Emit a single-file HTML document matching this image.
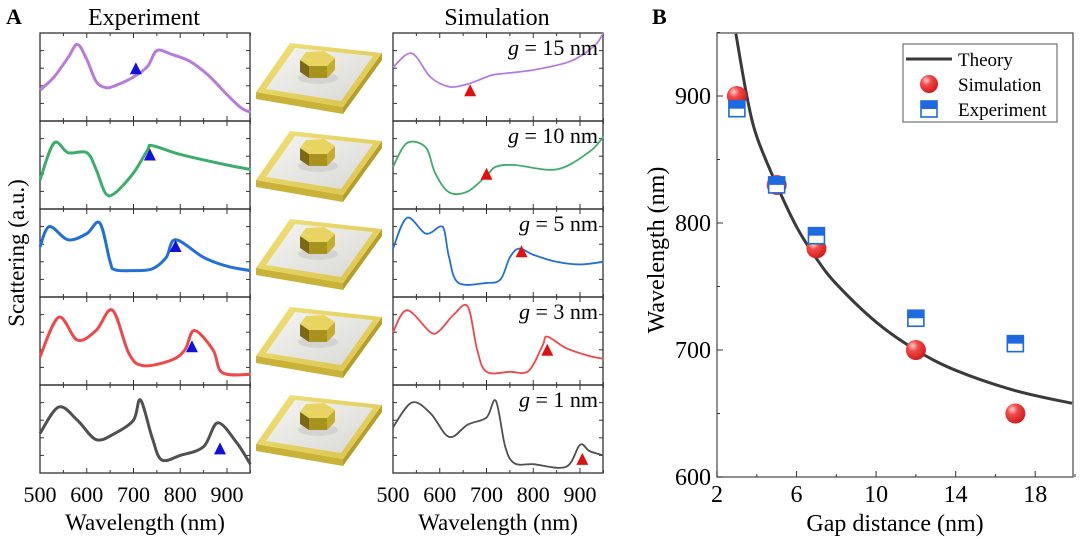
<!DOCTYPE html>
<html><head><meta charset="utf-8"><style>
body{margin:0;background:#fff;}
svg{display:block;font-family:"Liberation Serif",serif;}
</style></head><body>
<svg id="fig" width="1080" height="539" viewBox="0 0 1080 539" xmlns="http://www.w3.org/2000/svg">
<defs>
<radialGradient id="ball" cx="0.35" cy="0.3" r="0.75"><stop offset="0" stop-color="#ffd0d0"/><stop offset="0.35" stop-color="#f24a4a"/><stop offset="1" stop-color="#d01818"/></radialGradient>
<linearGradient id="silver" x1="0" y1="0" x2="1" y2="1"><stop offset="0" stop-color="#f4f4f2"/><stop offset="1" stop-color="#d8d8d4"/></linearGradient>
<linearGradient id="goldTop" x1="0" y1="0" x2="1" y2="1"><stop offset="0" stop-color="#f2e27a"/><stop offset="1" stop-color="#d9c24a"/></linearGradient>
</defs>
<g id="panelA"></g>
<g id="panelB"></g>
</svg>
<script>
// ---------- Panel A data ----------
const expLambda = [
 [500,530,560,580,600,620,640,660,700,730,750,780,820,860,900,930,950],
 [500,530,560,600,620,640,660,700,730,740,800,900,950],
 [500,520,560,600,628,650,660,700,740,770,790,850,900,950],
 [500,540,580,620,655,690,720,780,810,830,870,890,950],
 [500,540,580,620,660,700,715,740,760,800,850,880,920,950]
];
const expValues = [
 [0.35,0.5,0.72,0.87,0.7,0.45,0.38,0.4,0.5,0.62,0.8,0.76,0.68,0.52,0.3,0.15,0.1],
 [0.33,0.75,0.64,0.64,0.45,0.18,0.18,0.41,0.67,0.72,0.62,0.5,0.45],
 [0.57,0.8,0.65,0.72,0.84,0.4,0.31,0.3,0.32,0.45,0.65,0.45,0.35,0.3],
 [0.32,0.77,0.51,0.62,0.85,0.36,0.22,0.28,0.4,0.62,0.4,0.14,0.12],
 [0.45,0.75,0.6,0.38,0.45,0.6,0.83,0.4,0.15,0.2,0.3,0.57,0.35,0.1]
];
const simLambda = [
 [500,540,580,620,660,700,720,800,880,930,950],
 [500,530,570,590,620,660,700,720,760,850,920,950],
 [500,530,570,600,610,620,640,700,730,750,770,800,850,900,950],
 [500,530,580,600,630,660,680,700,750,790,820,830,870,920,950],
 [500,540,580,620,660,700,720,740,760,800,870,900,920,950]
];
const simValues = [
 [0.61,0.77,0.5,0.39,0.42,0.5,0.53,0.58,0.68,0.85,1.02],
 [0.48,0.75,0.7,0.41,0.19,0.2,0.38,0.48,0.5,0.45,0.65,0.82],
 [0.55,0.9,0.72,0.8,0.75,0.45,0.16,0.16,0.2,0.45,0.55,0.48,0.4,0.37,0.4],
 [0.6,0.85,0.6,0.62,0.8,0.89,0.4,0.15,0.15,0.16,0.45,0.55,0.42,0.33,0.3],
 [0.52,0.8,0.68,0.41,0.55,0.63,0.82,0.3,0.11,0.1,0.07,0.32,0.25,0.2]
];
const expColors = ["#b77be0","#3cad6a","#2070d8","#f04848","#505050"];
const simColors = ["#b77be0","#3cad6a","#2070d8","#f04848","#505050"];
const expMarkLambda = [705,735,790,825,885];
const expMarkValue = [0.6,0.62,0.58,0.44,0.28];
const simMarkLambda = [665,700,775,830,905];
const simMarkValue = [0.35,0.4,0.52,0.4,0.16];
const gapLabels = ["15","10","5","3","1"];
const xTickLabelsA = [500,600,700,800,900];

// ---------- Panel B data ----------
const gapSim = [3,5,7,12,17];
const wlSim = [900,830,780,700,650];
const gapExp = [3,5,7,12,17];
const wlExp = [890,830,790,725,705];
const theoryGap = [2.95,3.5,4,5,6,7,8,10,12,14,17,19.85];
const theoryWl = [949,900,868,830,797,772,752,722,700,684,668,658];
const yTicksB = [600,700,800,900];
const xTicksB = [2,6,10,14,18];

const NS="http://www.w3.org/2000/svg";
function mk(tag, attrs, parent){const e=document.createElementNS(NS,tag);for(const k in attrs)e.setAttribute(k,attrs[k]);parent.appendChild(e);return e;}

const A=document.getElementById('panelA');
const B=document.getElementById('panelB');
const rowTop=33, rowH=88;
const expX0=40, simX0=393, pxPerNm=0.4675, panelW=210;
function xA(x0,l){return x0+(l-500)*pxPerNm;}
function yA(r,v){return rowTop+r*rowH+rowH-v*rowH;}

let t;
t=mk('text',{x:6,y:24,'font-size':22,'font-weight':'bold'},A);t.textContent='A';

t=mk('text',{x:144,y:25,'font-size':24,'text-anchor':'middle'},A);t.textContent='Experiment';

t=mk('text',{x:497,y:25,'font-size':24,'text-anchor':'middle'},A);t.textContent='Simulation';

t=mk('text',{x:0,y:0,'font-size':23,'text-anchor':'middle',transform:'translate(24,253) rotate(-90)'},A);t.textContent='Scattering (a.u.)';


function drawFrame(x0,r,name){
  const y0=rowTop+r*rowH;
  const g=mk('g',{},A);
  
  
  mk('rect',{x:x0,y:y0,width:panelW,height:rowH,fill:'none',stroke:'#333','stroke-width':1.3},g);
  for(let l=500;l<=950;l+=50){
    const x=xA(x0,l), len=(l%100===0)?5:3;
    mk('line',{x1:x,y1:y0+rowH,x2:x,y2:y0+rowH-len,stroke:'#333','stroke-width':1},g);
    mk('line',{x1:x,y1:y0,x2:x,y2:y0+len,stroke:'#333','stroke-width':1},g);
  }
  for(let k=1;k<=4;k++){
    const y=y0+k*rowH/5;
    mk('line',{x1:x0,y1:y,x2:x0+4,y2:y,stroke:'#333','stroke-width':1},g);
    mk('line',{x1:x0+panelW,y1:y,x2:x0+panelW-4,y2:y,stroke:'#333','stroke-width':1},g);
  }
}
function curve(x0,r,lams,vals,color,w,name){
  const pts=lams.map((l,i)=>[xA(x0,l),Math.max(rowTop+r*rowH,yA(r,vals[i]))]);
  let d='M'+pts[0][0]+','+pts[0][1];
  for(let i=1;i<pts.length;i++){
    const p0=pts[Math.max(0,i-2)],p1=pts[i-1],p2=pts[i],p3=pts[Math.min(pts.length-1,i+1)];
    const c1x=p1[0]+(p2[0]-p0[0])/6,c1y=p1[1]+(p2[1]-p0[1])/6;
    const c2x=p2[0]-(p3[0]-p1[0])/6,c2y=p2[1]-(p3[1]-p1[1])/6;
    d+=' C'+c1x+','+c1y+' '+c2x+','+c2y+' '+p2[0]+','+p2[1];
  }
  const p=mk('path',{d:d,fill:'none',stroke:color,'stroke-width':w,'stroke-linejoin':'round'},A);
  
  
}
function tri(x,y,color,name){
  const p=mk('polygon',{points:(x-6)+','+(y+6)+' '+(x+6)+','+(y+6)+' '+x+','+(y-6),fill:color},A);
  
  
}
function device(r){
  const g=mk('g',{transform:'translate(0,'+(r*rowH)+')'},A);
  
  
  mk('polygon',{points:'256,92 343,107 343,114 256,99',fill:'#c9b238'},g);
  mk('polygon',{points:'343,107 382,53 382,60 343,114',fill:'#b59e2a'},g);
  mk('polygon',{points:'256,92 290,43 382,53 343,107',fill:'url(#goldTop)'},g);
  mk('polygon',{points:'266,89 295,48 373,56 341,101',fill:'url(#silver)'},g);
  mk('ellipse',{cx:318,cy:78,rx:20,ry:6,fill:'#c8c8c4',opacity:0.6},g);
  mk('polygon',{points:'300,60 300,72 309,78 309,66',fill:'#7a6a18'},g);
  mk('polygon',{points:'309,66 309,78 327,78 327,66',fill:'#a8921e'},g);
  mk('polygon',{points:'327,66 327,78 335,70 335,58',fill:'#c4ad30'},g);
  mk('polygon',{points:'300,60 306,52 324,51 335,58 327,66 309,66',fill:'#e8d460'},g);
}

for(let r=0;r<5;r++){
  drawFrame(expX0,r,'experiment-frame-'+(r+1));
  drawFrame(simX0,r,'simulation-frame-'+(r+1));
  curve(expX0,r,expLambda[r],expValues[r],expColors[r],3,'experiment-spectrum-'+(r+1));
  curve(simX0,r,simLambda[r],simValues[r],simColors[r],1.8,'simulation-spectrum-'+(r+1));
  tri(xA(expX0,expMarkLambda[r]),yA(r,expMarkValue[r]),'#1010e0','experiment-peak-marker-'+(r+1));
  tri(xA(simX0,simMarkLambda[r]),yA(r,simMarkValue[r]),'#e01010','simulation-peak-marker-'+(r+1));
  device(r);
  const gl=mk('text',{x:598,y:rowTop+r*rowH+22,'font-size':22,'text-anchor':'end'},A);
  
  
  gl.innerHTML='<tspan font-style="italic">g</tspan> = '+gapLabels[r]+' nm';
}
[expX0,simX0].forEach((x0,j)=>{
  xTickLabelsA.forEach(l=>{
    const tl=mk('text',{x:xA(x0,l),y:502,'font-size':22,'text-anchor':'middle'},A);
    tl.textContent=l;
    
    
  });
  const xt=mk('text',{x:x0+panelW/2,y:530,'font-size':23,'text-anchor':'middle'},A);
  xt.textContent='Wavelength (nm)';
  
  
});

// ---------- Panel B ----------
const bx0=717,bx1=1073,by0=33,by1=477;
function xB(g){return bx0+(g-2)*(bx1-bx0)/(19.9-2);}
function yB(w){return by1-(w-600)*(by1-by0)/(949.6-600);}
t=mk('text',{x:652,y:24,'font-size':22,'font-weight':'bold'},B);t.textContent='B';

const fr=mk('rect',{x:bx0,y:by0,width:bx1-bx0,height:by1-by0,fill:'none',stroke:'#555','stroke-width':1.3},B);

yTicksB.forEach(w=>{
  mk('line',{x1:bx0,y1:yB(w),x2:bx0+6,y2:yB(w),stroke:'#333'},B);
  mk('line',{x1:bx0,y1:yB(w+50),x2:bx0+3,y2:yB(w+50),stroke:'#333'},B);
  const tl=mk('text',{x:bx0-6,y:yB(w)+8,'font-size':24,'text-anchor':'end'},B);
  tl.textContent=w;
  
  
});
xTicksB.forEach(g=>{
  mk('line',{x1:xB(g),y1:by1,x2:xB(g),y2:by1-6,stroke:'#333'},B);
  mk('line',{x1:xB(g+2),y1:by1,x2:xB(g+2),y2:by1-3,stroke:'#333'},B);
  const tl=mk('text',{x:xB(g),y:502,'font-size':24,'text-anchor':'middle'},B);
  tl.textContent=g;
  
  
});
t=mk('text',{x:895,y:531,'font-size':24,'text-anchor':'middle'},B);t.textContent='Gap distance (nm)';

t=mk('text',{x:0,y:0,'font-size':24,'text-anchor':'middle',transform:'translate(664,250) rotate(-90)'},B);t.textContent='Wavelength (nm)';


const pts=theoryGap.map((g,i)=>[xB(g),yB(theoryWl[i])]);
let td='M'+pts[0][0]+','+pts[0][1];
for(let i=1;i<pts.length;i++){
  const p0=pts[Math.max(0,i-2)],p1=pts[i-1],p2=pts[i],p3=pts[Math.min(pts.length-1,i+1)];
  td+=' C'+(p1[0]+(p2[0]-p0[0])/6)+','+(p1[1]+(p2[1]-p0[1])/6)+' '+(p2[0]-(p3[0]-p1[0])/6)+','+(p2[1]-(p3[1]-p1[1])/6)+' '+p2[0]+','+p2[1];
}
const th=mk('path',{d:td,fill:'none',stroke:'#3a3a3a','stroke-width':3},B);


function square(cx,cy,name){
  const g=mk('g',{},B);
  
  
  mk('rect',{x:cx-8,y:cy-8,width:16,height:16,fill:'#fff',stroke:'#1e6ae0','stroke-width':1.6},g);
  mk('rect',{x:cx-8,y:cy-8,width:16,height:8,fill:'#1e6ae0'},g);
}
function ball(cx,cy,name){
  const c=mk('circle',{cx:cx,cy:cy,r:10,fill:'url(#ball)'},B);
  
  
}
gapSim.forEach((g,i)=>ball(xB(g),yB(wlSim[i]),'simulation-point-'+(i+1)));
gapExp.forEach((g,i)=>square(xB(g),yB(wlExp[i]),'experiment-point-'+(i+1)));

const lg=mk('g',{},B);

mk('rect',{x:903,y:44,width:154,height:78,fill:'#fff',stroke:'#555','stroke-width':1},lg);
mk('line',{x1:906,y1:59,x2:952,y2:59,stroke:'#3a3a3a','stroke-width':3},lg);
let lt=mk('text',{x:958,y:66,'font-size':19},lg);lt.textContent='Theory';

mk('circle',{cx:929,cy:84,r:9,fill:'url(#ball)'},lg);
lt=mk('text',{x:958,y:91,'font-size':19},lg);lt.textContent='Simulation';

mk('rect',{x:921,y:101,width:16,height:16,fill:'#fff',stroke:'#1e6ae0','stroke-width':1.6},lg);
mk('rect',{x:921,y:101,width:16,height:8,fill:'#1e6ae0'},lg);
lt=mk('text',{x:958,y:116,'font-size':19},lg);lt.textContent='Experiment';

</script>
</body></html>
